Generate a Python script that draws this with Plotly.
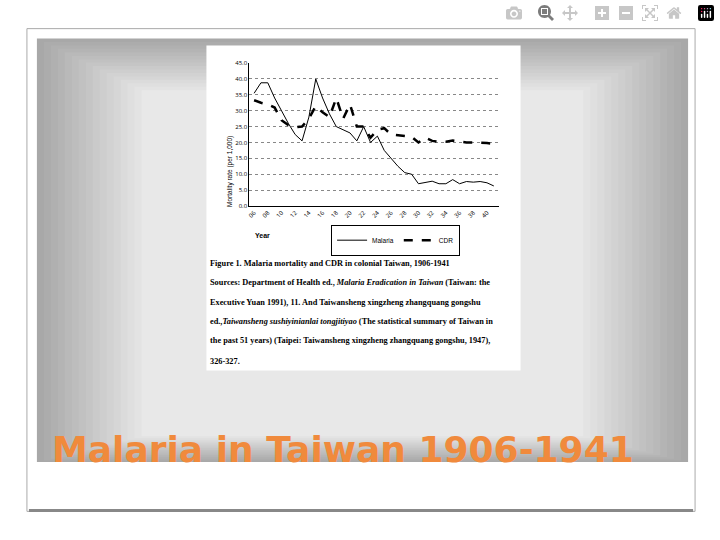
import plotly.graph_objects as go

years = list(range(1906, 1942))
malaria = [35.5, 38.8, 38.8, 34, 30, 26, 22.5, 20.5, 28, 40, 34, 29, 25, 24, 23, 20.5,
           25, 20, 22, 17.5, 15, 12.5, 10.5, 10, 7, 7.3, 7.8, 7, 7, 8.3, 7, 7.7, 7.5, 7.7, 7.3, 6.3]
cdr = [33.3, 32.5, 32, 31, 27, 25.5, 24.8, 25, 27.5, 31.5, 29.5, 28, 34, 27.5, 32, 25,
       25, 21.5, 24, 24.5, 22.5, 22.3, 22, 21.8, 20, 21.5, 20.5, 20.2, 20.2, 20.6, 20.3,
       20, 20, 20, 19.8, 19.5]
tick_years = list(range(1906, 1941, 2))
tick_text = [f"{y % 100:02d}" for y in tick_years]
caption = [
    "Figure 1. Malaria mortality and CDR in colonial Taiwan, 1906-1941",
    "Sources: Department of Health ed., <i>Malaria Eradication in Taiwan</i> (Taiwan: the",
    "Executive Yuan 1991), 11. And Taiwansheng xingzheng zhangquang gongshu",
    "ed.,<i>Taiwansheng sushiyinianlai tongjitiyao</i> (The statistical summary of Taiwan in",
    "the past 51 years) (Taipei: Taiwansheng xingzheng zhangquang gongshu, 1947),",
    "326-327.",
]
cap_y = [263, 283, 303, 322, 342, 363]

def py(p):
    return 1 - p / 540

def px(p):
    return p / 720

fig = go.Figure()
fig.add_trace(go.Scatter(x=years, y=malaria, mode="lines", name="Malaria",
                         line=dict(color="black", width=1)))
fig.add_trace(go.Scatter(x=years, y=cdr, mode="lines", name="CDR",
                         line=dict(color="black", width=2.5, dash="dash")))

shapes = []
shapes.append(dict(type="rect", xref="paper", yref="paper", x0=px(25), x1=px(695), y0=py(515), y1=py(25),
                   line=dict(color="#aaaaaa", width=1), fillcolor="white", layer="below"))
shapes.append(dict(type="line", xref="paper", yref="paper", x0=px(27), x1=px(693), y0=py(514), y1=py(514),
                   line=dict(color="#888888", width=3), layer="below"))
n = 16
for i in range(n):
    v = int(0xa8 + (0xe8 - 0xa8) * i / (n - 1))
    g = f"#{v:02x}{v:02x}{v:02x}"
    d = i * 7
    shapes.append(dict(type="rect", xref="paper", yref="paper",
                       x0=px(35 + d), x1=px(688 - d), y0=py(465 - d * 0.25), y1=py(35 + d * 0.5),
                       line=dict(width=0), fillcolor=g, layer="below"))
shapes.append(dict(type="rect", xref="paper", yref="paper", x0=px(205), x1=px(520), y0=py(372), y1=py(42),
                   line=dict(width=0), fillcolor="white", layer="below"))
fig.update_layout(shapes=shapes)

annotations = [dict(text=f"<b>{t}</b>", x=px(207), y=py(yy), xref="paper", yref="paper", xanchor="left",
                    yanchor="middle", showarrow=False,
                    font=dict(family="Liberation Serif", size=8.3, color="black"))
               for t, yy in zip(caption, cap_y)]
annotations.append(dict(text="<b>Year</b>", x=px(252), y=py(235), xref="paper", yref="paper",
                        showarrow=False, xanchor="left",
                        font=dict(family="Liberation Sans", size=7, color="black")))
annotations.append(dict(text="Mortality rate (per 1,000)", x=px(222), y=py(132), xref="paper",
                        yref="paper", showarrow=False, textangle=-90,
                        font=dict(family="Liberation Sans", size=6.5, color="black")))
annotations.append(dict(text="<b>Malaria in Taiwan 1906-1941</b>", x=px(48), y=py(452), xref="paper",
                        yref="paper", showarrow=False, xanchor="left", yanchor="middle",
                        font=dict(family="DejaVu Sans", size=36, color="#f08a3c")))
fig.update_layout(annotations=annotations)

fig.update_layout(
    width=720, height=540, margin=dict(l=0, r=0, t=0, b=0),
    paper_bgcolor="white", plot_bgcolor="white",
    xaxis=dict(domain=[px(248), px(498)], range=[1905.3, 1941.7], tickvals=tick_years,
               ticktext=tick_text, tickangle=-45, showgrid=False, showline=True,
               linecolor="black", linewidth=1, ticks="", tickfont=dict(size=6, color="black"),
               zeroline=False),
    yaxis=dict(domain=[py(205), py(60)], range=[0, 45], dtick=5, tickformat=".1f",
               showgrid=True, gridcolor="#888888", griddash="dot", gridwidth=0.6,
               showline=True, linecolor="black", linewidth=1, ticks="",
               tickfont=dict(size=6, color="black"), zeroline=False),
    legend=dict(orientation="h", x=px(330), y=py(224), xanchor="left", yanchor="top",
                bordercolor="black", borderwidth=1, bgcolor="white",
                font=dict(size=6.5, family="Liberation Sans", color="black"),
                itemwidth=30, tracegroupgap=0),
    showlegend=True,
)
fig.write_html("out.html", post_script="document.body.style.margin='0';")
